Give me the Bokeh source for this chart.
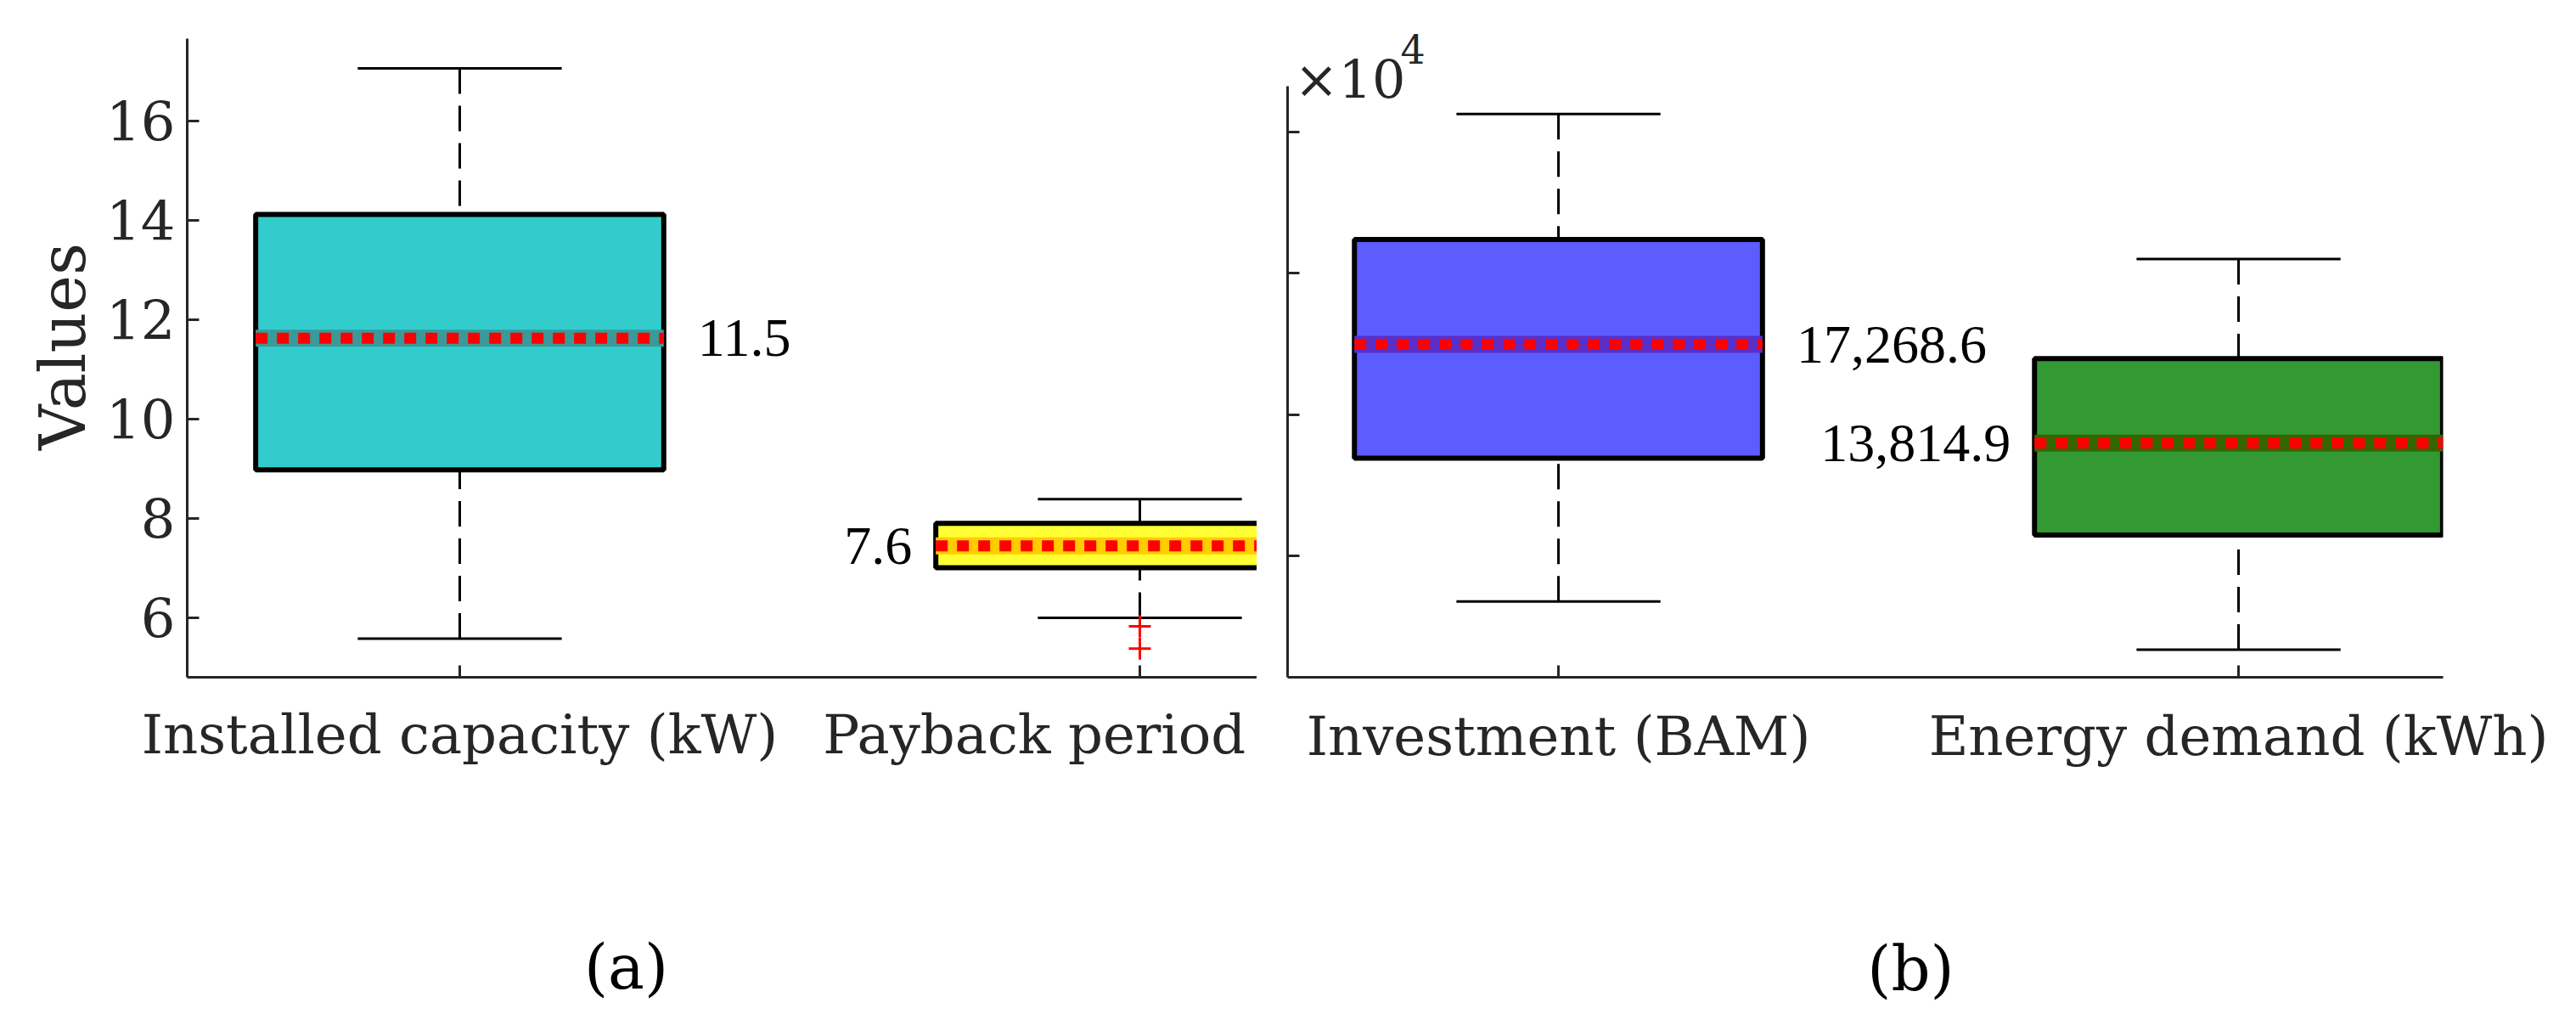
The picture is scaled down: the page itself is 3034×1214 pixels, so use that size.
from bokeh.plotting import figure
from bokeh.models import (Range1d, FixedTicker, LinearAxis, Label, ColumnDataSource,
                          CustomLabelingPolicy)
from bokeh.layouts import row
from bokeh.embed import file_html
from bokeh.resources import INLINE

# ---------------- data: panel (a) ----------------
cats_a = ["Installed capacity (kW)", "Payback period"]
pos_a = [1, 2]
q1_a = [8.98, 7.01]
q3_a = [14.12, 7.90]
med_a = [11.63, 7.45]
lo_a = [5.58, 6.00]
hi_a = [17.06, 8.39]
out_x_a = [2, 2]
out_y_a = [5.83, 5.38]
ann_a = ["11.5", "7.6"]
yticks_a = [6, 8, 10, 12, 14, 16]

# ---------------- data: panel (b) ----------------
cats_b = ["Investment (BAM)", "Energy demand (kWh)"]
pos_b = [1, 2]
q1_b = [13460, 10740]
q3_b = [21190, 16980]
med_b = [17480, 13990]
lo_b = [8390, 6690]
hi_b = [25620, 20500]
ann_b = ["17,268.6", "13,814.9"]
yticks_b = [10000, 15000, 20000, 25000]

# ---------------- styles / layout constants ----------------
fill_a = ["#33CCCC", "#FFFF33"]
band_a = ["#3A9A9A", "#FFCC00"]
fill_b = ["#5C5CFF", "#339933"]
band_b = ["#5A2EC8", "#336600"]
ann_side = ["right", "left"]
BOX_W = 0.6
CAP_W = 0.3
AX = "#262626"
TICK_FONT = "DejaVu Serif"
ANN_FONT = "Liberation Serif"
NO_LABELS = CustomLabelingPolicy(code="return new Set()")
CAPTION_X_A = 1.2447
CAPTION_X_B = 1.518


def style(p):
    p.outline_line_color = None
    p.grid.visible = False
    p.background_fill_color = "white"
    p.border_fill_color = "white"
    for ax in p.axis:
        ax.axis_line_width = 3
        ax.axis_line_color = AX
        ax.major_tick_line_color = AX
        ax.major_tick_line_width = 3
        ax.major_tick_in = 14
        ax.major_tick_out = 0
        ax.minor_tick_line_color = None
        ax.major_label_text_font = TICK_FONT
        ax.major_label_text_font_size = "64px"
        ax.major_label_text_color = AX


def draw_boxes(p, pos, q1, q3, med, lo, hi, fills, bands, ann):
    src = ColumnDataSource(dict(
        x=pos, q1=q1, q3=q3, med=med, lo=lo, hi=hi, fill=fills, band=bands,
        left=[x - BOX_W / 2 for x in pos], right=[x + BOX_W / 2 for x in pos],
        capl=[x - CAP_W / 2 for x in pos], capr=[x + CAP_W / 2 for x in pos]))
    p.segment(x0="x", y0="hi", x1="x", y1="q3", line_color="black", line_width=3,
              line_dash="30 14", source=src)
    p.segment(x0="x", y0="lo", x1="x", y1="q1", line_color="black", line_width=3,
              line_dash="30 14", source=src)
    p.segment(x0="capl", y0="hi", x1="capr", y1="hi", line_color="black", line_width=3, source=src)
    p.segment(x0="capl", y0="lo", x1="capr", y1="lo", line_color="black", line_width=3, source=src)
    p.quad(left="left", right="right", top="q3", bottom="q1", fill_color="fill",
           line_color="black", line_width=6, source=src)
    p.segment(x0="left", y0="med", x1="right", y1="med", line_color="band", line_width=20, source=src)
    p.segment(x0="left", y0="med", x1="right", y1="med", line_color="red", line_width=13,
              line_dash="14 11", line_cap="butt", source=src)
    for i, x in enumerate(pos):
        if ann_side[i] == "right":
            lx, al = x + BOX_W / 2 + 0.05, "left"
        else:
            lx, al = x - BOX_W / 2 - 0.035, "right"
        p.add_layout(Label(x=lx, y=med[i], text=ann[i], text_font=ANN_FONT,
                           text_font_size="64px", text_baseline="middle", text_align=al,
                           text_color="black"))


def caption(p, cx, text, standoff):
    ax = LinearAxis(ticker=FixedTicker(ticks=[cx]), major_label_overrides={cx: text},
                    axis_line_color=None, major_tick_line_color=None, minor_tick_line_color=None,
                    major_tick_in=0, major_tick_out=0, major_label_standoff=standoff,
                    major_label_text_font=TICK_FONT, major_label_text_font_size="72px",
                    major_label_text_color="black")
    p.add_layout(ax, "below")


# ---------------- panel (a) ----------------
pa = figure(width=1480, height=1206, x_range=Range1d(0.5993, 2.1723),
            y_range=Range1d(4.803, 18.12), output_backend="svg", toolbar_location=None,
            min_border_left=220, min_border_right=0, min_border_top=18, min_border_bottom=409)
draw_boxes(pa, pos_a, q1_a, q3_a, med_a, lo_a, hi_a, fill_a, band_a, ann_a)
pa.scatter(x=out_x_a, y=out_y_a, marker="cross", size=26, line_color="red", line_width=3)

pa.xaxis.ticker = FixedTicker(ticks=pos_a)
pa.xaxis.major_label_overrides = {p: "" for p in pos_a}
pa.xaxis.major_label_policy = NO_LABELS
pa.xaxis.major_label_standoff = 0
label_shift_a = [0.0, -0.155]
label_pos_a = [p + s for p, s in zip(pos_a, label_shift_a)]
lab_ax = LinearAxis(ticker=FixedTicker(ticks=label_pos_a),
                    major_label_overrides={lp: c for lp, c in zip(label_pos_a, cats_a)})
pa.add_layout(lab_ax, "below")
pa.yaxis.ticker = FixedTicker(ticks=yticks_a)
pa.yaxis.bounds = (4.803, 17.658)
pa.yaxis.axis_label = "Values"
pa.yaxis.axis_label_text_font = TICK_FONT
pa.yaxis.axis_label_text_font_size = "74px"
pa.yaxis.axis_label_text_font_style = "normal"
pa.yaxis.axis_label_text_color = AX
pa.yaxis.major_label_standoff = 14
pa.yaxis.axis_label_standoff = 5
style(pa)
lab_ax.axis_line_color = None
lab_ax.major_tick_line_color = None
lab_ax.major_label_standoff = 30
caption(pa, CAPTION_X_A, "(a)", 192)

# ---------------- panel (b) ----------------
pb = figure(width=1546, height=1206, x_range=Range1d(0.6017, 2.3008),
            y_range=Range1d(5713, 29098), output_backend="svg", toolbar_location=None,
            min_border_left=36, min_border_right=149, min_border_top=18, min_border_bottom=409)
draw_boxes(pb, pos_b, q1_b, q3_b, med_b, lo_b, hi_b, fill_b, band_b, ann_b)
pb.xaxis.ticker = FixedTicker(ticks=pos_b)
pb.xaxis.major_label_overrides = {p: c for p, c in zip(pos_b, cats_b)}
pb.yaxis.ticker = FixedTicker(ticks=yticks_b)
pb.yaxis.bounds = (5713, 26606)
style(pb)
pb.xaxis.major_label_standoff = 32
pb.yaxis.major_label_overrides = {t: "" for t in yticks_b}
pb.yaxis.major_label_policy = NO_LABELS
pb.yaxis.major_label_standoff = 0
pb.add_layout(Label(x=8, y=704, x_units="screen", y_units="screen", text="×10",
                    text_font=TICK_FONT, text_font_size="62px", text_align="left",
                    text_baseline="alphabetic", text_color=AX))
pb.add_layout(Label(x=133, y=740, x_units="screen", y_units="screen", text="4",
                    text_font=TICK_FONT, text_font_size="46px", text_align="left",
                    text_baseline="alphabetic", text_color=AX))
caption(pb, CAPTION_X_B, "(b)", 192)

layout = row(pa, pb, spacing=0)
open("out.html", "w").write(file_html(layout, INLINE))
